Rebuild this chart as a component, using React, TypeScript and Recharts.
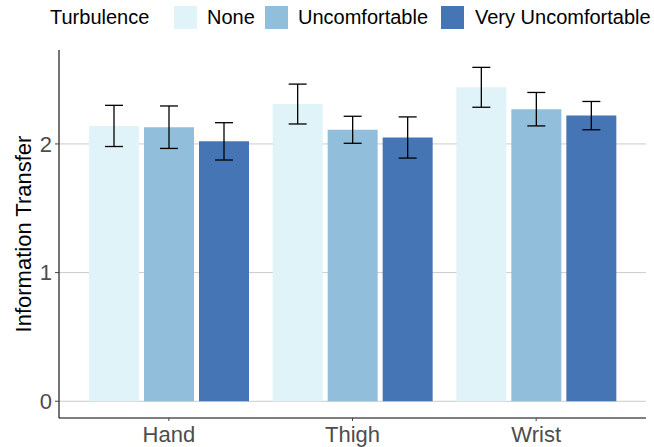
import { Bar, BarChart, CartesianGrid, ErrorBar, Label, XAxis, YAxis } from 'recharts'

const categories = ['Hand', 'Thigh', 'Wrist']
const noneMean = [2.14, 2.31, 2.44]
const noneErr = [0.16, 0.155, 0.155]
const uncomfMean = [2.13, 2.11, 2.27]
const uncomfErr = [0.165, 0.105, 0.13]
const veryMean = [2.02, 2.05, 2.22]
const veryErr = [0.145, 0.16, 0.11]
const yTicks = [0, 1, 2]

const legendItems = [
  { name: 'None', color: '#E0F3F8', left: 174, textLeft: 207 },
  { name: 'Uncomfortable', color: '#91BFDB', left: 265, textLeft: 298 },
  { name: 'Very Uncomfortable', color: '#4575B4', left: 441, textLeft: 475 },
]

const data = categories.map((c, i) => ({
  body: c,
  none: noneMean[i],
  noneErr: noneErr[i],
  uncomf: uncomfMean[i],
  uncomfErr: uncomfErr[i],
  very: veryMean[i],
  veryErr: veryErr[i],
}))

const font = '"Liberation Sans", Arial, Helvetica, sans-serif'

const Legend = () => (
  <div style={{ position: 'absolute', left: 0, top: 0, width: 654, height: 40, fontFamily: font, fontSize: 20, color: '#000' }}>
    <span style={{ position: 'absolute', left: 50, top: 6, lineHeight: '23px' }}>Turbulence</span>
    {legendItems.map((it) => (
      <div key={it.name}>
        <div style={{ position: 'absolute', left: it.left, top: 6, width: 23, height: 23, background: it.color }} />
        <span style={{ position: 'absolute', left: it.textLeft, top: 6, lineHeight: '23px', whiteSpace: 'nowrap' }}>{it.name}</span>
      </div>
    ))}
  </div>
)

export default function App() {
  return (
    <div style={{ position: 'absolute', left: 0, top: 0, width: 654, height: 447, background: '#fff' }}>
      <Legend />
      <BarChart
        width={654}
        height={447}
        data={data}
        margin={{ top: 50, right: 8, bottom: 0, left: 0 }}
        barSize={50}
        barGap={5}
        style={{ fontFamily: font }}
      >
        <CartesianGrid horizontal={{ stroke: '#b5b5b5', strokeWidth: 1 }} vertical={false} horizontalValues={yTicks} />
        <XAxis
          dataKey="body"
          height={29}
          padding={{ left: 18, right: 18 }}
          axisLine={{ stroke: '#000', strokeWidth: 1.1 }}
          tickLine={{ stroke: '#444' }}
          tickSize={3}
          tickMargin={5}
          tick={{ fontSize: 22, fill: '#4d4d4d' }}
        />
        <YAxis
          width={59}
          domain={[-0.13, 2.73]}
          allowDataOverflow
          ticks={yTicks}
          axisLine={{ stroke: '#000', strokeWidth: 1.1 }}
          tickLine={{ stroke: '#444' }}
          tickSize={4}
          tickMargin={3}
          tick={{ fontSize: 22, fill: '#4d4d4d' }}
        >
          <Label
            content={({ viewBox }: any) => {
              const cx = 31
              const cy = viewBox.y + viewBox.height / 2
              return (
                <text x={cx} y={cy} transform={`rotate(-90 ${cx} ${cy})`} textAnchor="middle" fontSize={22} fill="#000">
                  Information Transfer
                </text>
              )
            }}
          />
        </YAxis>
        <Bar dataKey="none" fill="#E0F3F8" isAnimationActive={false}>
          <ErrorBar dataKey="noneErr" width={9} stroke="#000" strokeWidth={1.3} direction="y" isAnimationActive={false} />
        </Bar>
        <Bar dataKey="uncomf" fill="#91BFDB" isAnimationActive={false}>
          <ErrorBar dataKey="uncomfErr" width={9} stroke="#000" strokeWidth={1.3} direction="y" isAnimationActive={false} />
        </Bar>
        <Bar dataKey="very" fill="#4575B4" isAnimationActive={false}>
          <ErrorBar dataKey="veryErr" width={9} stroke="#000" strokeWidth={1.3} direction="y" isAnimationActive={false} />
        </Bar>
      </BarChart>
    </div>
  )
}
